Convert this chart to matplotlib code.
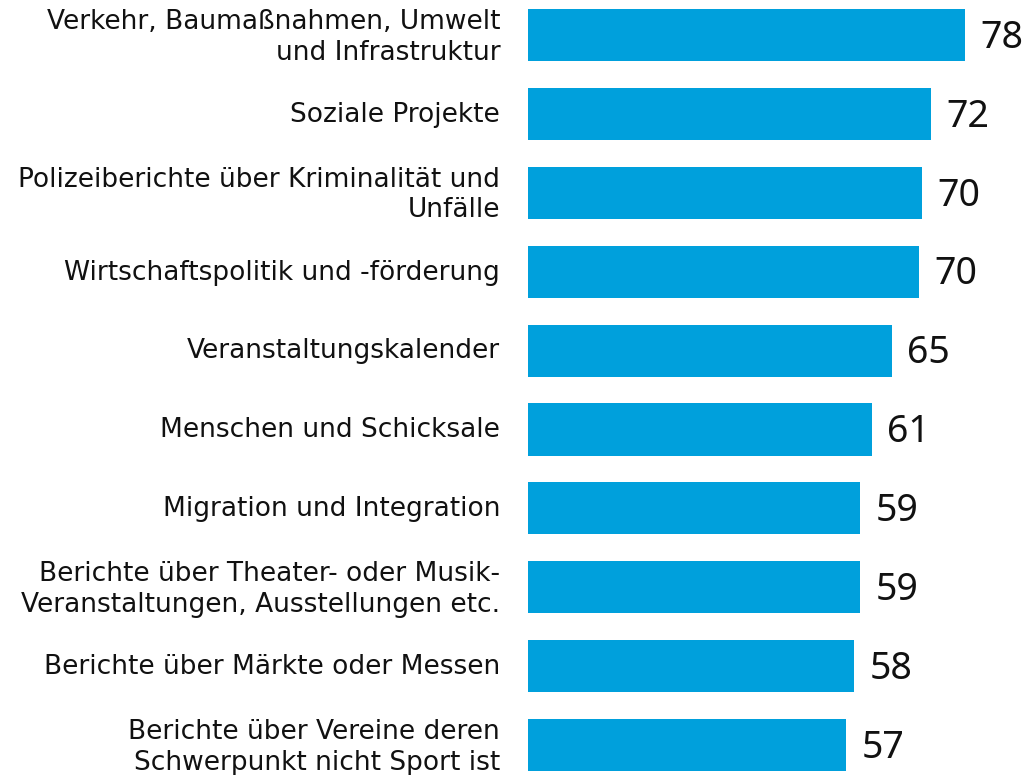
import matplotlib.pyplot as plt

categories = [
    "Verkehr, Baumaßnahmen, Umwelt\nund Infrastruktur",
    "Soziale Projekte",
    "Polizeiberichte über Kriminalität und\nUnfälle",
    "Wirtschaftspolitik und -förderung",
    "Veranstaltungskalender",
    "Menschen und Schicksale",
    "Migration und Integration",
    "Berichte über Theater- oder Musik-\nVeranstaltungen, Ausstellungen etc.",
    "Berichte über Märkte oder Messen",
    "Berichte über Vereine deren\nSchwerpunkt nicht Sport ist",
]
values = [78.0, 72.0, 70.4, 69.8, 65.0, 61.4, 59.3, 59.3, 58.2, 56.8]

fig = plt.figure(figsize=(10.32, 7.75), dpi=100)
ax = fig.add_axes([528 / 1032, 0, 1 - 528 / 1032, 1])

ypos = list(range(len(values)))
ax.barh(ypos, values, height=0.66, color="#00A0DC")

for y, v, cat in zip(ypos, values, categories):
    ax.annotate(f"{v:.0f}", (v, y), xytext=(11, -2), textcoords="offset points",
                ha="left", va="center", fontsize=27, family="Noto Sans",
                color="#111111")
    # category label left of the bar
    dy = 2 if "\n" in cat else 1.5
    ax.annotate(cat, (0, y), xytext=(-20, dy), textcoords="offset points",
                ha="right", va="center_baseline", fontsize=19,
                family="DejaVu Sans", color="#111111", linespacing=1.22,
                multialignment="right", annotation_clip=False)

ax.set_xticks([])
ax.set_yticks([])
ax.set_xlim(0, 90)
ax.set_ylim(9.38, -0.444)
for s in ax.spines.values():
    s.set_visible(False)

fig.savefig("out.png", dpi=100)
